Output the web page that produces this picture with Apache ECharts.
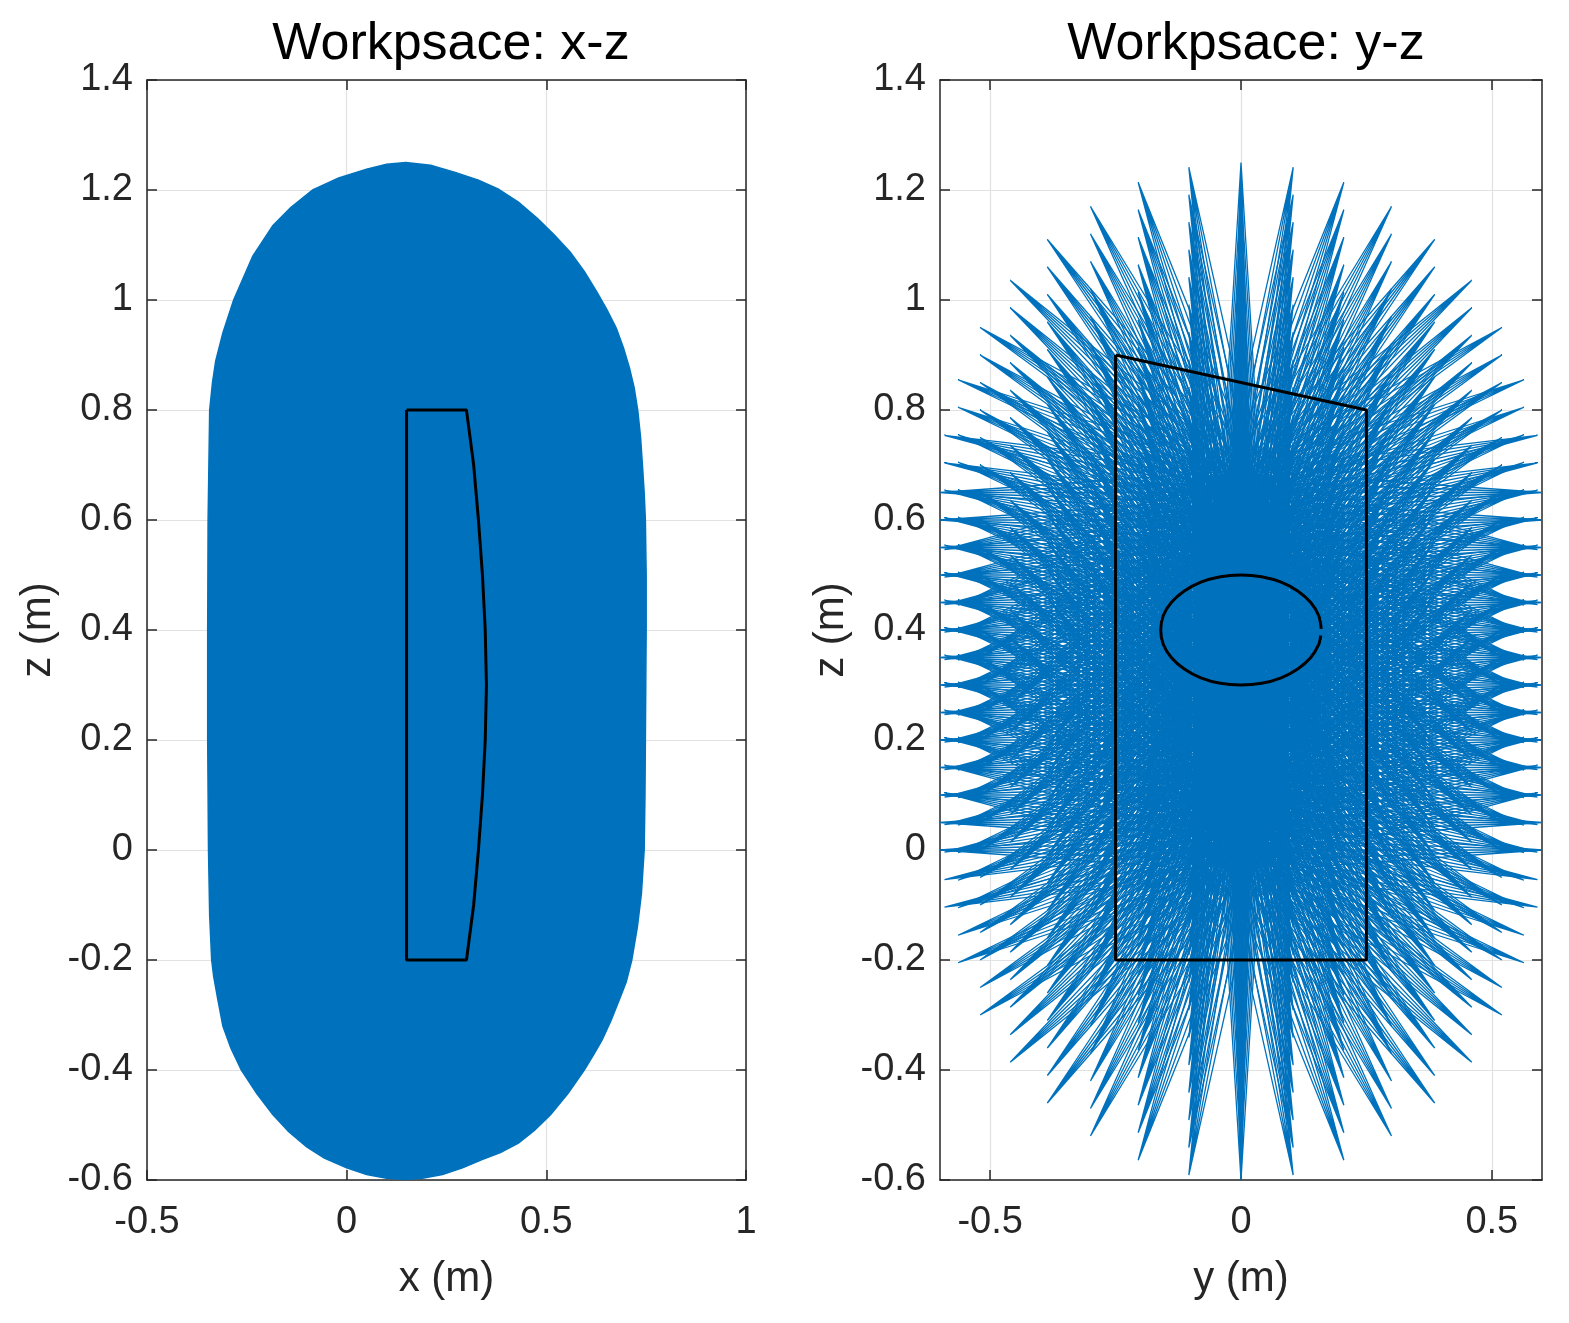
<!DOCTYPE html>
<html>
<head>
<meta charset="utf-8">
<script src="https://cdn.jsdelivr.net/npm/echarts@6.0.0/dist/echarts.min.js"></script>
<style>
html,body{margin:0;padding:0;background:#fff;}
#chart{width:1569px;height:1323px;}
</style>
</head>
<body>
<div id="chart"></div>
<script>
// ---------- Titles / axis names ----------
const titleXZ = 'Workpsace: x-z';
const titleYZ = 'Workpsace: y-z';
const nameX = 'x (m)';
const nameY = 'y (m)';
const nameZ = 'z (m)';

// ---------- Tick values ----------
const yzYTicks = [-0.5, 0, 0.5];

// ---------- Left panel: x-z workspace outline (filled) ----------
const blobX = [0.148, 0.21, 0.272, 0.33, 0.379, 0.43, 0.478, 0.52, 0.56, 0.595, 0.626, 0.652, 0.675, 0.693, 0.708, 0.72, 0.729, 0.736, 0.741, 0.745, 0.748,
               0.75, 0.75, 0.749, 0.748, 0.747, 0.745, 0.738, 0.728, 0.714, 0.7, 0.684, 0.662, 0.64, 0.62, 0.595, 0.555, 0.511, 0.47, 0.43, 0.385, 0.339, 0.29, 0.24, 0.19, 0.146,
               0.1, 0.05, 0.0, -0.056, -0.1, -0.145, -0.185, -0.225, -0.264, -0.29, -0.31, -0.323, -0.333, -0.338, -0.343, -0.346, -0.348, -0.348, -0.347, -0.345, -0.343,
               -0.336, -0.328, -0.31, -0.283, -0.235, -0.185, -0.14, -0.085, -0.02, 0.05, 0.1];
const blobZ = [1.25, 1.245, 1.232, 1.218, 1.202, 1.178, 1.148, 1.118, 1.087, 1.052, 1.015, 0.982, 0.949, 0.913, 0.877, 0.84, 0.799, 0.75, 0.696, 0.65, 0.6,
               0.5, 0.4, 0.3, 0.2, 0.1, 0.0, -0.08, -0.14, -0.2, -0.24, -0.27, -0.31, -0.345, -0.37, -0.4, -0.442, -0.481, -0.51, -0.533, -0.55, -0.563, -0.578, -0.59, -0.597, -0.599,
               -0.597, -0.59, -0.578, -0.56, -0.54, -0.512, -0.481, -0.443, -0.4, -0.36, -0.32, -0.27, -0.23, -0.2, -0.12, 0.0, 0.2, 0.4, 0.6, 0.7, 0.8,
               0.85, 0.889, 0.94, 1.0, 1.08, 1.135, 1.168, 1.2, 1.222, 1.238, 1.247];

// ---------- Left panel: black target region ----------
const xzFrameX = [0.15, 0.3, 0.318, 0.33, 0.34, 0.347, 0.35, 0.347, 0.34, 0.33, 0.318, 0.3, 0.15, 0.15];
const xzFrameZ = [0.8, 0.8, 0.7, 0.6, 0.5, 0.4, 0.3, 0.2, 0.1, 0.0, -0.1, -0.2, -0.2, 0.8];

// ---------- Right panel: black trapezoid and ellipse ----------
const yzFrameY = [-0.25, 0.25, 0.25, -0.25, -0.25];
const yzFrameZ = [0.9, 0.8, -0.2, -0.2, 0.9];
const ellipseY = [0.16, 0.155, 0.139, 0.113, 0.08, 0.041, 0, -0.041, -0.08, -0.113, -0.139, -0.155, -0.16, -0.155, -0.139, -0.113, -0.08, -0.041, 0, 0.041, 0.08, 0.113, 0.139, 0.155, 0.159];
const ellipseZ = [0.402, 0.426, 0.45, 0.471, 0.487, 0.497, 0.5, 0.497, 0.487, 0.471, 0.45, 0.426, 0.4, 0.374, 0.35, 0.329, 0.313, 0.303, 0.3, 0.303, 0.313, 0.329, 0.35, 0.374, 0.39];

// ---------- Right panel: spikes (tip offsets from each layer centre) ----------
const spikeOffY = [0, 0.104, 0.205, 0.3, 0.386, 0.46, 0.52, 0.564, 0.591, 0.6, 0.591, 0.564, 0.52, 0.46, 0.386, 0.3, 0.205, 0.104,
                   0, -0.104, -0.205, -0.3, -0.386, -0.46, -0.52, -0.564, -0.591, -0.6, -0.591, -0.564, -0.52, -0.46, -0.386, -0.3, -0.205, -0.104];
const spikeOffZ = [0.6, 0.591, 0.564, 0.52, 0.46, 0.386, 0.3, 0.205, 0.104, 0, -0.104, -0.205, -0.3, -0.386, -0.46, -0.52, -0.564, -0.591,
                   -0.6, -0.591, -0.564, -0.52, -0.46, -0.386, -0.3, -0.205, -0.104, 0, 0.104, 0.205, 0.3, 0.386, 0.46, 0.52, 0.564, 0.591];
const layerZ = [0, 0.05, 0.1, 0.15, 0.2, 0.25, 0.3, 0.35, 0.4, 0.45, 0.5, 0.55, 0.6, 0.65];
const spikeBaseHalf = 0.04;
const spikeFan = [-1, -0.5, 0, 0.5, 1];

// ---------- build ----------
const BLUE = '#0072BD';
const TXT = '#262626';
const FONT = 'Liberation Sans, Arial, Helvetica, sans-serif';

const blobData = blobX.map((x, i) => [x, blobZ[i]]);
const xzFrame = xzFrameX.map((x, i) => [x, xzFrameZ[i]]);
const yzFrame = yzFrameY.map((y, i) => [y, yzFrameZ[i]]);
const ellipse = ellipseY.map((y, i) => [y, ellipseZ[i]]);
const spikes = [];
layerZ.forEach(c => spikeOffY.forEach((dy, d) => spikes.push([c, dy, spikeOffZ[d]])));

function axisCommon(extra) {
  return Object.assign({
    type: 'value',
    axisLine: {show: true, onZero: false, lineStyle: {color: TXT, width: 1.5}},
    axisTick: {show: true, inside: true, length: 10, lineStyle: {color: TXT, width: 1.5}},
    axisLabel: {color: TXT, fontSize: 38, fontFamily: FONT},
    splitLine: {show: false},
    nameTextStyle: {color: TXT, fontSize: 42, fontFamily: FONT}
  }, extra);
}
const gridLine = {show: true, lineStyle: {color: '#e2e2e2', width: 1.2}};
const xLab = {color: TXT, fontSize: 38, fontFamily: FONT, margin: 24};
const yLab = {color: TXT, fontSize: 38, fontFamily: FONT, margin: 14};
const titleStyle = {fontSize: 52, fontWeight: 'normal', color: '#000', fontFamily: FONT};

const option = {
  backgroundColor: '#fff',
  animation: false,
  title: [
    {text: titleXZ, left: 446, top: 14, textAlign: 'center', textStyle: titleStyle},
    {text: titleYZ, left: 1241, top: 14, textAlign: 'center', textStyle: titleStyle}
  ],
  grid: [
    {left: 147, top: 80, width: 599, height: 1100},
    {left: 940, top: 80, width: 602, height: 1100}
  ],
  xAxis: [
    axisCommon({gridIndex: 0, position: 'bottom', min: -0.5, max: 1, interval: 0.5, splitLine: gridLine,
      axisLabel: xLab, name: nameX, nameLocation: 'middle', nameGap: 78}),
    axisCommon({gridIndex: 0, position: 'top', min: -0.5, max: 1, interval: 0.5, axisLabel: {show: false}}),
    axisCommon({gridIndex: 1, position: 'bottom', min: -0.6, max: 0.6, splitLine: gridLine,
      axisTick: {show: true, inside: true, length: 10, customValues: yzYTicks, lineStyle: {color: TXT, width: 1.5}},
      axisLabel: Object.assign({customValues: yzYTicks}, xLab),
      name: nameY, nameLocation: 'middle', nameGap: 78}),
    axisCommon({gridIndex: 1, position: 'top', min: -0.6, max: 0.6,
      axisTick: {show: true, inside: true, length: 10, customValues: yzYTicks, lineStyle: {color: TXT, width: 1.5}},
      axisLabel: {show: false}})
  ],
  yAxis: [
    axisCommon({gridIndex: 0, position: 'left', min: -0.6, max: 1.4, interval: 0.2, splitLine: gridLine,
      axisLabel: yLab, name: nameZ, nameLocation: 'middle', nameRotate: 90, nameGap: 88}),
    axisCommon({gridIndex: 0, position: 'right', min: -0.6, max: 1.4, interval: 0.2, axisLabel: {show: false}}),
    axisCommon({gridIndex: 1, position: 'left', min: -0.6, max: 1.4, interval: 0.2, splitLine: gridLine,
      axisLabel: yLab, name: nameZ, nameLocation: 'middle', nameRotate: 90, nameGap: 88}),
    axisCommon({gridIndex: 1, position: 'right', min: -0.6, max: 1.4, interval: 0.2, axisLabel: {show: false}})
  ],
  series: [
    {
      type: 'custom', xAxisIndex: 0, yAxisIndex: 0, clip: true, z: 2,
      data: [0],
      renderItem: function (params, api) {
        const pts = blobData.map(p => api.coord(p));
        return {type: 'polygon', shape: {points: pts}, style: {fill: BLUE, stroke: BLUE, lineWidth: 1.5}};
      }
    },
    {
      type: 'line', xAxisIndex: 0, yAxisIndex: 0, data: xzFrame, showSymbol: false, symbol: 'none', z: 5,
      lineStyle: {color: '#000', width: 3}
    },
    {
      type: 'custom', xAxisIndex: 2, yAxisIndex: 2, clip: true, z: 2,
      data: spikes,
      renderItem: function (params, api) {
        const c = api.value(0), dy = api.value(1), dz = api.value(2);
        const len = Math.sqrt(dy * dy + dz * dz);
        const py = -dz / len * spikeBaseHalf, pz = dy / len * spikeBaseHalf;
        const tip = api.coord([dy, c + dz]);
        const pts = [];
        spikeFan.forEach(f => {
          pts.push(api.coord([py * f, c + pz * f]));
          pts.push(tip);
        });
        return {type: 'polyline', shape: {points: pts}, style: {stroke: BLUE, lineWidth: 1.3, fill: null}};
      }
    },
    {
      type: 'line', xAxisIndex: 2, yAxisIndex: 2, data: yzFrame, showSymbol: false, symbol: 'none', z: 5,
      lineStyle: {color: '#000', width: 3}
    },
    {
      type: 'line', xAxisIndex: 2, yAxisIndex: 2, data: ellipse, showSymbol: false, symbol: 'none', z: 5, smooth: 0.3,
      lineStyle: {color: '#000', width: 3}
    }
  ]
};

const chart = echarts.init(document.getElementById('chart'), null, {renderer: 'canvas'});
chart.setOption(option);
</script>
</body>
</html>
